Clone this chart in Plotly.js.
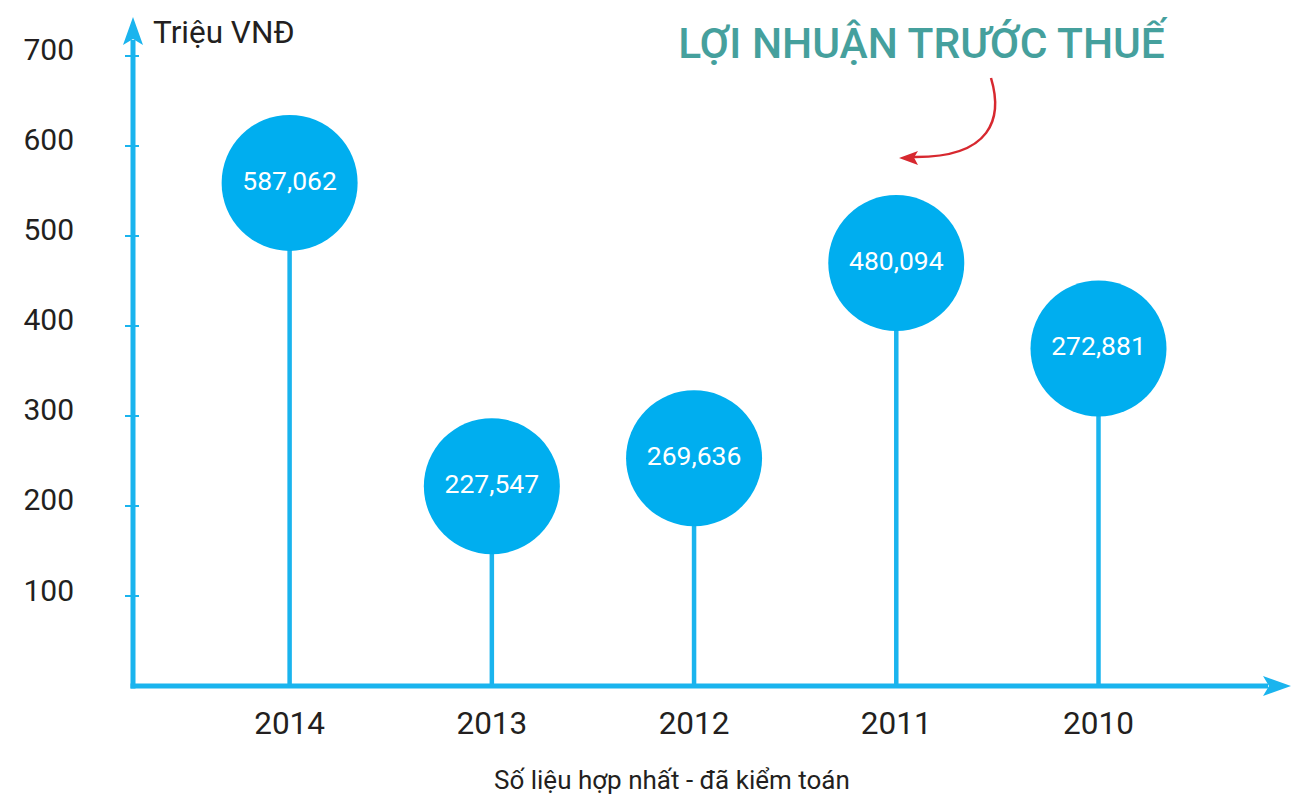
<!DOCTYPE html>
<html>
<head>
<meta charset="utf-8">
<script src="https://cdn.plot.ly/plotly-3.0.1.min.js"></script>
<style>html,body{margin:0;padding:0;background:#fff;}#chart{width:1293px;height:798px;}</style>
</head>
<body>
<div id="chart"></div>
<script>
// ---- data ----
const years = ["2014", "2013", "2012", "2011", "2010"];
// bubble heights as drawn in the picture (Triệu VNĐ scale)
const plotted = [559, 222, 253, 470, 375];
// printed values in the bubbles
const labels = ["587,062", "227,547", "269,636", "480,094", "272,881"];
const yTicks = [100, 200, 300, 400, 500, 600, 700];
const titleText = "LỢI NHUẬN TRƯỚC THUẾ";
const unitText = "Triệu VNĐ";
const noteText = "Số liệu hợp nhất - đã kiểm toán";

// ---- layout geometry ----
const W = 1293, H = 798;
const L = 133, R = 3, T = 18, B = 112;
const PW = W - L - R, PH = H - T - B;
const px = X => (X - L) / PW;
const py = Y => (H - B - Y) / PH;
const blue = '#1ab4ee';
const yRange = [0, 742.2];

// stems built from data
const sx = [], sy = [];
years.forEach((c, i) => { sx.push(c, c, null); sy.push(0, plotted[i], null); });

const traces = [
  {x: sx, y: sy, mode: 'lines', line: {color: blue, width: 4.5}, hoverinfo: 'skip', showlegend: false},
  {x: years, y: plotted, mode: 'markers+text', text: labels, textposition: 'middle center',
   textfont: {family: 'Roboto', size: 26.5, color: '#ffffff'},
   marker: {size: 136, color: '#00aeef', line: {width: 0}}, hoverinfo: 'skip', showlegend: false},
  {x: [years[0]], y: [0], yaxis: 'y2', mode: 'markers', marker: {opacity: 0}, hoverinfo: 'skip', showlegend: false}
];

function P(pts) { return 'M' + pts.map(p => px(p[0]) + ',' + py(p[1])).join(' L') + ' Z'; }

const shapes = [
  {type: 'line', xref: 'paper', yref: 'paper', x0: 0, x1: 0, y0: py(688.5), y1: py(40), line: {color: blue, width: 5}},
  {type: 'line', xref: 'paper', yref: 'paper', x0: px(130.5), x1: px(1268), y0: 0, y1: 0, line: {color: blue, width: 5}},
  {type: 'path', xref: 'paper', yref: 'paper', path: P([[133, 17], [143, 45], [133, 39], [123, 45]]), fillcolor: blue, line: {width: 0}},
  {type: 'path', xref: 'paper', yref: 'paper', path: P([[1291, 686], [1263, 676], [1269, 686], [1263, 696]]), fillcolor: blue, line: {width: 0}},
  {type: 'path', xref: 'paper', yref: 'paper',
   path: 'M' + px(991) + ',' + py(78) + ' C' + px(1003) + ',' + py(118) + ' ' + px(992) + ',' + py(158) + ' ' + px(913) + ',' + py(157),
   line: {color: '#d7282f', width: 2.5}},
  {type: 'path', xref: 'paper', yref: 'paper', path: P([[899, 158], [918, 151], [914, 157.5], [918, 165]]), fillcolor: '#d7282f', line: {width: 0}}
];

const layout = {
  width: W, height: H,
  margin: {l: L, r: R, t: T, b: B, pad: 0},
  paper_bgcolor: '#fff', plot_bgcolor: '#fff',
  showlegend: false,
  font: {family: 'Roboto', color: '#231f20'},
  title: {text: titleText, xref: 'paper', yref: 'container', x: px(921.5), xanchor: 'center', y: 1 - 43 / H, yanchor: 'middle',
          font: {family: 'Roboto', size: 42.5, color: '#45a09d', weight: 500}},
  xaxis: {type: 'category', categoryarray: years, categoryorder: 'array', range: [-0.7745, 4.947],
          showline: false, showgrid: false, zeroline: false, ticks: '',
          tickfont: {family: 'Roboto', size: 31.5, color: '#231f20'}, ticklabelstandoff: 15, fixedrange: true},
  yaxis: {range: yRange, tickvals: yTicks, ticktext: yTicks.map(String), ticks: 'outside', ticklen: 7, tickwidth: 2.5, tickcolor: blue,
          showline: false, showgrid: false, zeroline: false, ticklabelshift: -6,
          tickfont: {family: 'Roboto', size: 30, color: '#231f20'}, ticklabelstandoff: 45, fixedrange: true},
  yaxis2: {overlaying: 'y', range: yRange, tickvals: yTicks, ticks: 'inside', ticklen: 6, tickwidth: 2.5, tickcolor: blue,
           showticklabels: false, showline: false, showgrid: false, zeroline: false, fixedrange: true},
  shapes: shapes,
  annotations: [
    {text: unitText, xref: 'paper', yref: 'paper', x: px(151), y: py(33), xanchor: 'left', yanchor: 'middle', showarrow: false,
     font: {family: 'Roboto', size: 31.5, color: '#231f20'}},
    {text: noteText, xref: 'paper', yref: 'paper', x: px(672), y: py(780), xanchor: 'center', yanchor: 'middle', showarrow: false,
     font: {family: 'Roboto', size: 26, color: '#231f20'}}
  ]
};

Plotly.newPlot('chart', traces, layout, {displayModeBar: false, staticPlot: true});
</script>
</body>
</html>
